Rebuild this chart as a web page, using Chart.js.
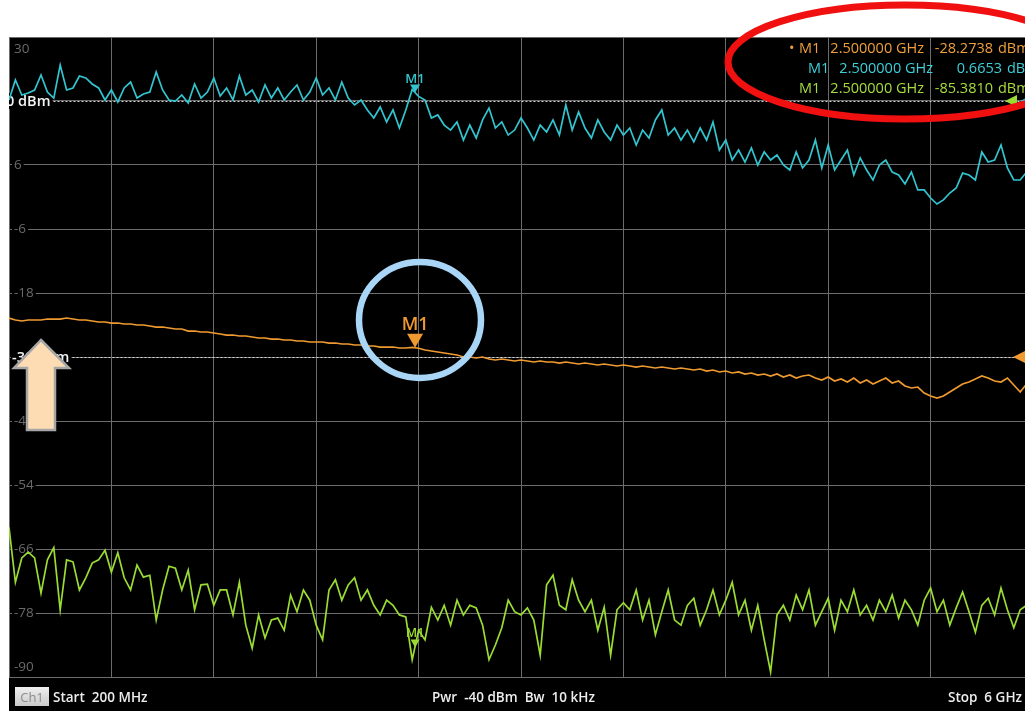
<!DOCTYPE html>
<html>
<head>
<meta charset="utf-8">
<title>Ch1 Sweep</title>
<script src="https://cdn.jsdelivr.net/npm/chart.js@4.4.1/dist/chart.umd.min.js"></script>
<style>
  html, body { margin: 0; padding: 0; background: #ffffff; overflow: hidden; }
  #wrap { position: relative; width: 1025px; height: 711px; overflow: hidden; }
  canvas { display: block; }
</style>
</head>
<body>
<div id="wrap"><canvas id="vna" width="1040" height="711"></canvas></div>
<script>
// ---- sweep setup ----
const START_GHZ = 0.2;
const STOP_GHZ = 6.0;
const SWEEP_POINTS = 161;
const freqGHz = Array.from({ length: SWEEP_POINTS }, (_, i) => START_GHZ + (STOP_GHZ - START_GHZ) * i / (SWEEP_POINTS - 1));
const xGridGHz = [0.2, 0.78, 1.36, 1.94, 2.52, 3.1, 3.68, 4.26, 4.84, 5.42, 6.0];

// ---- trace data (dBm) ----
const cyanTrace = [
  0.08, 1.64, 0.47, 0.63, 0.86, 2.03, 0.70, 0.23, 2.81, 0.86, 1.02,
  1.95, 1.80, 1.33, 1.02, 0.08, 0.86, -0.08, 1.02, 1.48, 0.23,
  0.55, 0.70, 2.27, 0.86, 0.08, 0.00, 0.47, -0.16, 1.33, 0.23,
  0.70, 1.80, 0.39, 1.02, 0.08, 1.95, 0.47, 0.86, -0.08, 1.25,
  0.23, 1.02, 0.08, 0.70, 1.25, 0.08, 0.70, 1.80, 0.47, 1.02,
  0.08, 1.48, 0.23, -0.31, 0.08, -0.70, -1.33, -0.47, -1.64, -0.70,
  -2.11, -0.70, 0.90, 0.36, 0.08, -1.33, -1.09, -1.88, -2.27, -1.64,
  -3.05, -1.88, -2.89, -1.48, -0.55, -2.11, -1.64, -2.66, -2.27, -1.33,
  -2.11, -3.05, -1.88, -2.42, -1.48, -2.66, -0.31, -2.27, -0.86, -2.11,
  -2.89, -1.48, -2.42, -3.05, -1.88, -2.66, -2.11, -3.44, -2.27, -2.89,
  -1.48, -0.70, -2.66, -2.11, -3.05, -2.27, -3.20, -2.11, -3.05, -1.64,
  -3.83, -3.05, -4.61, -3.83, -4.77, -3.67, -5.00, -3.98, -4.61, -4.22,
  -5.00, -5.39, -3.98, -5.23, -4.61, -3.05, -5.23, -3.44, -5.39, -4.61,
  -3.83, -5.78, -4.45, -5.39, -6.17, -5.00, -4.61, -5.55, -5.78, -6.48,
  -5.55, -6.95, -6.95, -7.58, -8.05, -7.73, -7.19, -6.80, -5.63, -5.78,
  -6.17, -3.98, -4.77, -4.61, -3.44, -5.23, -6.17, -6.17, -5.55, -5.23
];

const orangeTrace = [
  -22.69, -23.06, -23.25, -23.06, -23.06, -23.06, -22.88, -22.88, -22.88, -22.69, -22.88,
  -23.06, -23.06, -23.25, -23.44, -23.44, -23.63, -23.63, -23.81, -23.81, -24.00,
  -24.00, -24.19, -24.38, -24.38, -24.56, -24.75, -24.75, -25.13, -25.13, -25.31,
  -25.31, -25.50, -25.69, -25.88, -25.88, -26.06, -26.06, -26.25, -26.44, -26.44,
  -26.63, -26.63, -26.81, -26.81, -27.00, -27.00, -27.19, -27.19, -27.19, -27.38,
  -27.38, -27.56, -27.56, -27.75, -27.75, -27.94, -27.94, -28.13, -28.13, -28.13,
  -28.31, -28.31, -28.20, -28.36, -28.69, -28.88, -29.06, -29.25, -29.44, -29.63,
  -30.00, -30.00, -30.19, -30.00, -30.38, -30.56, -30.38, -30.56, -30.75, -30.56,
  -30.75, -30.94, -30.75, -30.94, -30.94, -31.13, -30.94, -31.13, -31.31, -31.13,
  -31.31, -31.50, -31.31, -31.50, -31.69, -31.50, -31.69, -31.88, -31.69, -31.88,
  -32.06, -31.88, -32.06, -32.25, -32.06, -32.25, -32.44, -32.25, -32.63, -32.44,
  -32.81, -32.63, -33.00, -32.81, -33.19, -33.00, -33.38, -33.19, -33.56, -33.19,
  -33.75, -33.38, -33.94, -33.56, -33.38, -33.94, -34.31, -33.75, -34.50, -34.13,
  -34.69, -33.94, -34.88, -34.31, -35.06, -34.50, -33.94, -34.88, -34.50, -35.44,
  -35.81, -35.63, -36.75, -37.31, -37.69, -37.31, -36.56, -35.81, -35.06, -34.69,
  -34.13, -33.56, -33.94, -34.50, -34.69, -33.94, -35.25, -36.56, -35.06, -34.88
];

const greenTrace = [
  -66.6, -75.2, -71.4, -70.5, -71.4, -76.9, -71.7, -69.8, -79.5, -71.7, -72.0,
  -76.4, -74.5, -72.2, -71.7, -70.2, -73.6, -70.6, -74.5, -76.4, -72.5,
  -74.4, -74.1, -81.1, -76.4, -72.7, -73.0, -76.4, -73.3, -79.5, -75.6,
  -75.5, -78.8, -76.4, -76.4, -80.3, -75.2, -81.9, -85.5, -80.3, -83.9,
  -81.1, -80.8, -82.7, -77.2, -79.8, -76.4, -78.0, -81.9, -84.2, -76.4,
  -74.8, -78.0, -75.6, -74.5, -78.0, -76.4, -78.8, -80.3, -78.0, -78.8,
  -80.3, -80.6, -87.3, -82.7, -84.2, -79.1, -81.1, -78.8, -81.9, -78.0,
  -80.3, -78.8, -79.2, -81.9, -87.3, -85.0, -82.3, -78.0, -79.8, -80.3,
  -79.2, -81.1, -86.6, -75.6, -74.1, -78.8, -79.5, -74.8, -78.0, -79.8,
  -78.0, -82.7, -79.1, -86.6, -79.5, -78.4, -79.5, -76.4, -81.1, -78.0,
  -83.4, -79.8, -76.4, -81.1, -81.9, -78.8, -77.7, -81.9, -79.5, -76.4,
  -80.3, -78.0, -75.2, -80.3, -78.0, -82.7, -78.8, -84.2, -89.2, -80.3,
  -78.8, -81.1, -77.2, -79.5, -76.4, -81.9, -79.8, -77.7, -82.7, -78.0,
  -79.8, -76.4, -80.3, -78.8, -81.1, -78.0, -79.8, -77.2, -80.8, -78.0,
  -79.5, -81.9, -78.0, -76.1, -79.8, -78.0, -81.9, -79.2, -76.7, -79.8,
  -83.0, -78.8, -77.7, -80.3, -76.1, -79.5, -82.3, -79.5, -78.8, -78.0
];

// ---- axis / reference settings ----
const yTickValues = [30, 18, 6, -6, -18, -30, -42, -54, -66, -78, -90];
const orangeRefDbm = -30;
const cyanRefDbm = 0;
const greenRefDbm = 0;

// ---- marker M1 ----
const markerFreqGHz = 2.5;
const markerOrangeDbm = -28.2738;
const markerCyanDbm = 0.6653;
const markerGreenDbm = -85.3810;

// ---- colours ----
const CYAN = '#33c5cf';
const ORANGE = '#ef9a30';
const GREEN = '#9bdc33';
const CYAN_TXT = '#3fcfd8';
const ORANGE_TXT = '#f0a03a';
const GREEN_TXT = '#a8dc3c';
const GRID = '#6c6c6c';
const TICK_TXT = '#6a6a6a';
const FONT = '"Open Sans", "Noto Sans", sans-serif';

const toPoints = vals => vals.map((v, i) => ({ x: freqGHz[i], y: v }));

function tri(ctx, tipX, tipY, halfW, h, dir) {
  ctx.beginPath();
  if (dir === 'down') {
    ctx.moveTo(tipX, tipY);
    ctx.lineTo(tipX - halfW, tipY - h);
    ctx.lineTo(tipX + halfW, tipY - h);
  } else { // left-pointing
    ctx.moveTo(tipX, tipY);
    ctx.lineTo(tipX + h, tipY - halfW);
    ctx.lineTo(tipX + h, tipY + halfW);
  }
  ctx.closePath();
  ctx.fill();
}

const vnaScreen = {
  id: 'vnaScreen',
  beforeDraw(chart) {
    const { ctx, width, height, chartArea } = chart;
    ctx.save();
    ctx.fillStyle = '#ffffff';
    ctx.fillRect(0, 0, width, height);
    ctx.fillStyle = '#000000';
    ctx.fillRect(chartArea.left, chartArea.top, width - chartArea.left, height - chartArea.top);
    ctx.restore();
  },
  beforeDatasetsDraw(chart) {
    const { ctx, chartArea, scales } = chart;
    const y = scales.y;
    ctx.save();
    ctx.beginPath();
    ctx.rect(chartArea.left, chartArea.top, chartArea.right - chartArea.left, chartArea.bottom - chartArea.top);
    ctx.clip();

    // scale labels of the active trace
    ctx.font = '13.5px ' + FONT;
    ctx.textAlign = 'left';
    const refPixOrange = y.getPixelForValue(orangeRefDbm);
    const refPixCyan = scales.yCyan.getPixelForValue(cyanRefDbm);
    y.ticks.forEach(t => {
      const py = y.getPixelForValue(t.value);
      if (Math.abs(py - refPixOrange) < 2 || Math.abs(py - refPixCyan) < 2) return;
      const label = String(t.value);
      const w = ctx.measureText(label).width;
      const lx = chartArea.left + 5;
      let cy = py;
      if (py - chartArea.top < 2) cy = py + 12;
      else if (chartArea.bottom - py < 2) cy = py - 10;
      else {
        ctx.fillStyle = '#000';
        ctx.fillRect(lx - 2, cy - 7, w + 4, 14);
      }
      ctx.fillStyle = TICK_TXT;
      ctx.textBaseline = 'middle';
      ctx.fillText(label, lx, cy);
    });

    // reference level lines
    const refs = [
      { py: refPixCyan, text: cyanRefDbm + ' dBm', x: chartArea.left - 3 },
      { py: refPixOrange, text: orangeRefDbm + ' dBm', x: chartArea.left + 3 }
    ];
    refs.forEach(r => {
      ctx.font = '600 14.5px ' + FONT;
      const w = ctx.measureText(r.text).width;
      ctx.fillStyle = '#000';
      ctx.fillRect(r.x - 1, r.py - 8, w + 3, 16);
      ctx.fillStyle = '#f4f4f4';
      ctx.textBaseline = 'middle';
      ctx.fillText(r.text, r.x, r.py + 0.5);
      ctx.strokeStyle = '#d6d6d6';
      ctx.lineWidth = 1;
      ctx.setLineDash([2, 2]);
      ctx.beginPath();
      ctx.moveTo(r.x + w + 3, Math.round(r.py) + 0.5);
      ctx.lineTo(chartArea.right, Math.round(r.py) + 0.5);
      ctx.stroke();
      ctx.setLineDash([]);
    });
    ctx.restore();
  },
  afterDatasetsDraw(chart) {
    const { ctx, chartArea, scales } = chart;
    const x = scales.x;
    const mx = x.getPixelForValue(markerFreqGHz);
    ctx.save();

    // reference arrows on the right edge
    const rCyan = scales.yCyan.getPixelForValue(cyanRefDbm);
    const rGreen = scales.yGreen.getPixelForValue(greenRefDbm);
    const rOrange = scales.y.getPixelForValue(orangeRefDbm);
    ctx.fillStyle = CYAN; tri(ctx, chartArea.right - 13, rCyan, 6, 12, 'left');
    ctx.fillStyle = GREEN; tri(ctx, chartArea.right - 28, rGreen, 6, 12, 'left');
    ctx.fillStyle = ORANGE; tri(ctx, chartArea.right - 20, rOrange, 6, 12, 'left');

    // M1 markers
    ctx.textAlign = 'center';
    ctx.textBaseline = 'alphabetic';
    const pc = scales.yCyan.getPixelForValue(markerCyanDbm);
    ctx.fillStyle = CYAN;
    tri(ctx, mx, pc, 5, 8, 'down');
    ctx.font = '600 13px ' + FONT;
    ctx.fillText('M1', mx, pc - 9);

    const po = scales.y.getPixelForValue(markerOrangeDbm);
    ctx.fillStyle = ORANGE;
    tri(ctx, mx, po, 8, 14, 'down');
    ctx.font = '600 18px ' + FONT;
    ctx.fillText('M1', mx, po - 18);

    const pg = scales.yGreen.getPixelForValue(markerGreenDbm);
    ctx.fillStyle = GREEN;
    tri(ctx, mx, pg, 4.5, 8, 'down');
    ctx.font = '600 12px ' + FONT;
    ctx.fillText('M1', mx, pg - 10);

    // marker readout
    const rows = [
      { color: ORANGE_TXT, v: markerOrangeDbm, base: 53, dx: 0, active: true },
      { color: CYAN_TXT, v: markerCyanDbm, base: 73, dx: 9, active: false },
      { color: GREEN_TXT, v: markerGreenDbm, base: 93, dx: 0, active: false }
    ];
    ctx.font = '14.5px ' + FONT;
    rows.forEach(r => {
      ctx.fillStyle = r.color;
      ctx.textAlign = 'left';
      if (r.active) ctx.fillText('\u2022', 789, r.base);
      ctx.fillText('M1', 799 + r.dx, r.base);
      ctx.textAlign = 'right';
      ctx.fillText(markerFreqGHz.toFixed(6) + ' GHz', 924 + r.dx, r.base);
      ctx.fillText(r.v.toFixed(4), 993 + r.dx, r.base);
      ctx.textAlign = 'left';
      ctx.fillText('dBm', 998 + r.dx, r.base);
    });

    // channel status bar
    const by = 702;
    const g = ctx.createLinearGradient(0, 687, 0, 706);
    g.addColorStop(0, '#f0f0f0');
    g.addColorStop(1, '#c9c9c9');
    ctx.fillStyle = g;
    ctx.fillRect(15, 687, 34, 19);
    ctx.fillStyle = '#8c8c8c';
    ctx.font = '13px ' + FONT;
    ctx.textAlign = 'center';
    ctx.fillText('Ch1', 32, by);
    ctx.fillStyle = '#ededed';
    ctx.font = '600 13.5px ' + FONT;
    ctx.textAlign = 'left';
    ctx.fillText('Start  200 MHz', 53, by);
    ctx.fillText('Pwr  -40 dBm  Bw  10 kHz', 432, by);
    ctx.textAlign = 'right';
    ctx.fillText('Stop  6 GHz', 1022, by);
    ctx.restore();
  },
  afterDraw(chart) {
    const { ctx } = chart;
    ctx.save();
    // red ellipse around the readout
    ctx.strokeStyle = '#f01010';
    ctx.lineWidth = 7;
    ctx.beginPath();
    ctx.ellipse(905, 62, 177, 57, 0, 0, Math.PI * 2);
    ctx.stroke();
    // light blue circle around the orange marker
    ctx.strokeStyle = '#a9d6f6';
    ctx.lineWidth = 6.5;
    ctx.beginPath();
    ctx.ellipse(420, 320, 61, 58, 0, 0, Math.PI * 2);
    ctx.stroke();
    // up arrow
    ctx.fillStyle = '#fddcb4';
    ctx.strokeStyle = '#a6a6a6';
    ctx.lineWidth = 2.5;
    ctx.lineJoin = 'miter';
    ctx.beginPath();
    ctx.moveTo(41, 340);
    ctx.lineTo(69, 368);
    ctx.lineTo(55, 368);
    ctx.lineTo(55, 430);
    ctx.lineTo(27, 430);
    ctx.lineTo(27, 368);
    ctx.lineTo(14, 368);
    ctx.closePath();
    ctx.fill();
    ctx.stroke();
    ctx.restore();
  }
};

const gridAxis = {
  ticks: { display: false },
  grid: { color: GRID, lineWidth: 1, drawTicks: false },
  border: { display: false }
};

new Chart(document.getElementById('vna'), {
  type: 'line',
  data: {
    datasets: [
      { label: 'Trc cyan', data: toPoints(cyanTrace), yAxisID: 'yCyan', borderColor: CYAN, borderWidth: 1.7, pointRadius: 0, tension: 0 },
      { label: 'Trc orange', data: toPoints(orangeTrace), yAxisID: 'y', borderColor: ORANGE, borderWidth: 1.7, pointRadius: 0, tension: 0 },
      { label: 'Trc green', data: toPoints(greenTrace), yAxisID: 'yGreen', borderColor: GREEN, borderWidth: 1.7, pointRadius: 0, tension: 0 }
    ]
  },
  options: {
    responsive: false,
    animation: false,
    devicePixelRatio: 1,
    layout: { padding: { left: 9, top: 37, right: 7, bottom: 34 } },
    plugins: { legend: { display: false }, tooltip: { enabled: false } },
    scales: {
      x: Object.assign({ type: 'linear', min: START_GHZ, max: STOP_GHZ,
        afterBuildTicks: s => { s.ticks = xGridGHz.map(v => ({ value: v })); } }, gridAxis),
      y: Object.assign({ type: 'linear', position: 'left', min: -90, max: 30,
        afterBuildTicks: s => { s.ticks = yTickValues.map(v => ({ value: v })); } }, gridAxis),
      yCyan: { type: 'linear', display: false, min: -45, max: 5 },
      yGreen: { type: 'linear', display: false, min: -90, max: 10 }
    }
  },
  plugins: [vnaScreen]
});
</script>
</body>
</html>
